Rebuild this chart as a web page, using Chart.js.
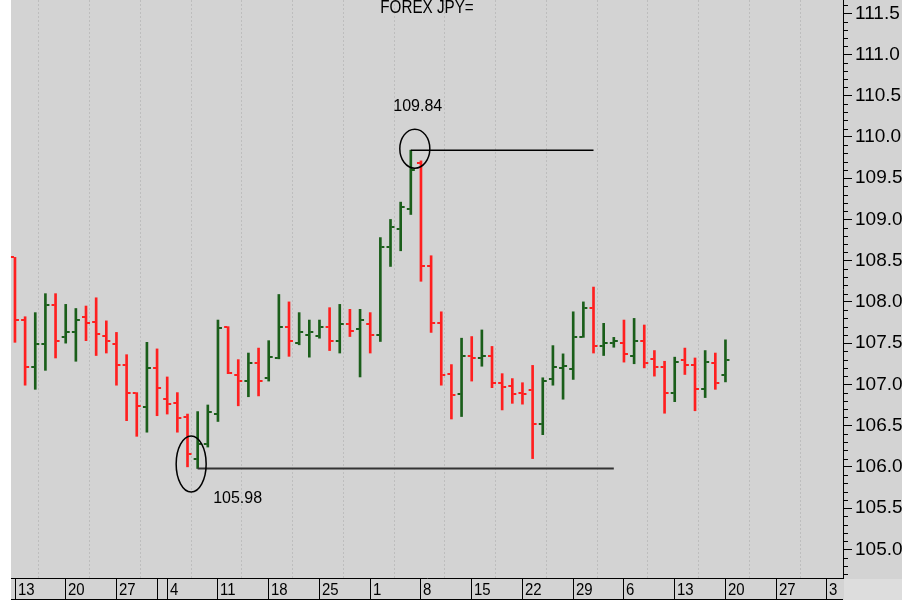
<!DOCTYPE html>
<html lang="en">
<head>
<meta charset="UTF-8">
<title>FOREX JPY=</title>
<style>
  html, body { margin: 0; padding: 0; background: #fff; }
  canvas { display: block; }
</style>
</head>
<body>
<canvas id="myChart" width="902" height="600"></canvas>
<script src="https://cdn.jsdelivr.net/npm/chart.js"></script>
<script>
  // daily bars, one per trading day (13 Apr .. 20 Jul)
  const opens = [
    108.54, 107.78, 107.21, 107.49, 107.96, 107.57, 107.63, 107.82, 107.76, 107.59,
    107.49, 107.23, 106.90, 106.72, 107.20, 106.82, 106.78, 106.60, 106.10, 106.28,
    106.64, 107.69, 107.11, 107.04, 107.26, 107.08, 107.32, 107.70, 107.50, 107.60,
    107.59, 107.70, 107.53, 107.73, 107.67, 107.73, 107.60, 108.67, 108.89, 109.13,
    109.69, 108.44, 107.74, 107.12, 106.88, 107.34, 107.32, 107.34, 107.02, 106.98,
    106.90, 106.93, 106.52, 107.06, 107.20, 107.19, 107.57, 107.93, 107.47, 107.50,
    107.50, 107.34, 107.52, 107.31, 107.21, 106.90, 107.29, 107.24, 106.94, 107.26,
    107.11
  ];
  const highs = [
    108.54, 107.82, 107.87, 108.10, 108.10, 107.97, 107.92, 107.95, 108.05, 107.77,
    107.63, 107.36, 106.90, 107.51, 107.43, 107.09, 106.90, 106.64, 106.67, 106.75,
    107.78, 107.70, 107.30, 107.38, 107.44, 107.53, 108.09, 108.00, 107.87, 107.78,
    107.78, 107.93, 107.97, 107.91, 107.91, 107.87, 108.78, 109.00, 109.21, 109.84,
    109.71, 108.56, 107.88, 107.24, 107.56, 107.58, 107.66, 107.46, 107.13, 107.07,
    107.02, 107.23, 107.08, 107.47, 107.37, 107.88, 108.00, 108.18, 107.74, 107.57,
    107.78, 107.80, 107.72, 107.41, 107.28, 107.33, 107.44, 107.32, 107.41, 107.38,
    107.54
  ];
  const lows = [
    107.51, 106.99, 106.94, 107.17, 107.32, 107.50, 107.28, 107.53, 107.35, 107.38,
    106.99, 106.56, 106.37, 106.42, 106.62, 106.64, 106.42, 106.00, 105.98, 106.24,
    106.55, 107.13, 106.74, 106.85, 106.86, 107.04, 107.31, 107.34, 107.48, 107.33,
    107.56, 107.41, 107.38, 107.58, 107.09, 107.38, 107.52, 108.43, 108.62, 109.06,
    108.25, 107.63, 106.99, 106.58, 106.61, 107.04, 107.22, 106.96, 106.69, 106.77,
    106.76, 106.10, 106.39, 106.99, 106.82, 107.06, 107.57, 107.38, 107.35, 107.45,
    107.27, 107.25, 107.20, 107.10, 106.65, 106.79, 107.12, 106.68, 106.84, 106.94,
    107.03
  ];
  const closes = [
    107.78, 107.21, 107.49, 107.96, 107.52, 107.63, 107.78, 107.74, 107.61, 107.52,
    107.24, 106.90, 106.74, 107.20, 106.96, 106.76, 106.59, 106.15, 106.28, 106.67,
    107.68, 107.14, 107.04, 107.26, 107.04, 107.33, 107.70, 107.52, 107.63, 107.63,
    107.70, 107.53, 107.73, 107.65, 107.78, 107.60, 108.67, 108.91, 109.15, 109.60,
    108.44, 107.74, 107.11, 106.87, 107.35, 107.32, 107.34, 107.02, 106.97, 106.88,
    106.88, 106.52, 107.04, 107.21, 107.22, 107.57, 107.93, 107.47, 107.50, 107.52,
    107.37, 107.52, 107.26, 107.21, 106.90, 107.27, 107.24, 106.94, 107.27, 107.02,
    107.29
  ];

  // week starts on the time axis (monday of each week)
  const weekLabels = ["13", "20", "27", "4", "11", "18", "25", "1", "8", "15", "22", "29", "6", "13", "20", "27", "3"];
  const monthBreaks = [14];
  const yTicks = [105.0, 105.5, 106.0, 106.5, 107.0, 107.5, 108.0, 108.5, 109.0, 109.5, 110.0, 110.5, 111.0, 111.5];

  const title = "FOREX JPY=";
  const upColor = "#1a5e1a";
  const downColor = "#ff1f1f";

  const barColors = opens.map(function (o, i) {
    return closes[i] >= o ? upColor : downColor;
  });
  const weekPos = weekLabels.map(function (l, k) { return k * 5 - 0.15; });

  const lowVal = Math.min.apply(null, lows);
  const lowIdx = lows.indexOf(lowVal);
  const highVal = Math.max.apply(null, highs);
  const highIdx = highs.indexOf(highVal);

  const sans = "'Liberation Sans', Arial, sans-serif";

  const backdrop = {
    id: "backdrop",
    beforeDraw(chart) {
      const ctx = chart.ctx;
      const a = chart.chartArea;
      ctx.save();
      ctx.fillStyle = "#fff";
      ctx.fillRect(0, 0, chart.width, chart.height);
      ctx.fillStyle = "#d3d3d3";
      ctx.fillRect(a.left, 0, chart.width - a.left, chart.height);
      ctx.fillStyle = "#dddddd";
      ctx.fillRect(a.right + 1, a.bottom + 1, chart.width, chart.height);
      ctx.restore();
    }
  };

  // open tick on the left, close tick on the right
  const ohlcTicks = {
    id: "ohlcTicks",
    afterDatasetsDraw(chart) {
      const ctx = chart.ctx;
      const xs = chart.scales.x;
      const ys = chart.scales.y;
      ctx.save();
      for (let i = 0; i < opens.length; i++) {
        const px = xs.getPixelForValue(i);
        ctx.fillStyle = barColors[i];
        ctx.fillRect(px - 4, Math.round(ys.getPixelForValue(opens[i])) - 1, 3, 2);
        ctx.fillRect(px + 1, Math.round(ys.getPixelForValue(closes[i])) - 1, 3, 2);
      }
      ctx.restore();
    }
  };

  const marks = {
    id: "marks",
    afterDraw(chart) {
      const ctx = chart.ctx;
      const a = chart.chartArea;
      const xs = chart.scales.x;
      const ys = chart.scales.y;
      ctx.save();

      // minor ticks on the price axis
      ctx.strokeStyle = "#000";
      ctx.lineWidth = 1;
      for (let v = 104.7; v < 111.66; v += 0.1) {
        const r = Math.round(v * 10);
        if (r % 5 === 0) continue;
        const py = Math.round(ys.getPixelForValue(r / 10)) + 0.5;
        ctx.beginPath();
        ctx.moveTo(a.right, py);
        ctx.lineTo(a.right + 5, py);
        ctx.stroke();
      }

      // date strip under the plot
      const top = a.bottom;
      const bottom = chart.height - 1;
      ctx.beginPath();
      ctx.moveTo(a.left, bottom + 0.5);
      ctx.lineTo(a.right, bottom + 0.5);
      ctx.stroke();
      ctx.fillStyle = "#000";
      ctx.textBaseline = "alphabetic";
      ctx.textAlign = "left";
      weekPos.forEach(function (v, k) {
        const px = Math.max(Math.round(xs.getPixelForValue(v)) + 1, a.left + 4) + 0.5;
        ctx.beginPath();
        ctx.moveTo(px, top);
        ctx.lineTo(px, bottom);
        ctx.stroke();
        // labels are a bit condensed in the original
        ctx.save();
        ctx.translate(px + 2.5, top + 16.5);
        ctx.scale(0.88, 1);
        ctx.font = "17px " + sans;
        ctx.fillText(weekLabels[k], 0, 0);
        ctx.restore();
      });
      monthBreaks.forEach(function (v) {
        const px = Math.round(xs.getPixelForValue(v)) + 0.5;
        ctx.beginPath();
        ctx.moveTo(px, top);
        ctx.lineTo(px, bottom);
        ctx.stroke();
      });

      // title, clipped at the top edge
      ctx.save();
      ctx.translate(427, 12.5);
      ctx.scale(0.8, 1);
      ctx.textAlign = "center";
      ctx.font = "19px " + sans;
      ctx.fillText(title, 0, 0);
      ctx.restore();

      // low marker
      const lx = xs.getPixelForValue(lowIdx);
      const ly = ys.getPixelForValue(lowVal);
      ctx.strokeStyle = "#333";
      ctx.lineWidth = 2;
      ctx.beginPath();
      ctx.moveTo(lx, ly);
      ctx.lineTo(xs.getPixelForValue(lowIdx + 41), ly);
      ctx.stroke();
      ctx.strokeStyle = "#000";
      ctx.lineWidth = 1.5;
      ctx.beginPath();
      ctx.ellipse(lx - 6.5, ly - 4.5, 15, 28, 0, 0, Math.PI * 2);
      ctx.stroke();

      // high marker
      const hx = xs.getPixelForValue(highIdx);
      const hy = ys.getPixelForValue(highVal);
      ctx.beginPath();
      ctx.moveTo(hx, hy);
      ctx.lineTo(xs.getPixelForValue(highIdx + 18), hy);
      ctx.stroke();
      ctx.beginPath();
      ctx.ellipse(hx + 4, hy - 1.5, 15, 19.5, 0, 0, Math.PI * 2);
      ctx.stroke();

      ctx.textAlign = "left";
      ctx.font = "16px " + sans;
      ctx.fillText(lowVal.toFixed(2), lx + 15.5, ly + 35);
      ctx.fillText(highVal.toFixed(2), hx - 17.5, hy - 39);

      ctx.restore();
    }
  };

  const config = {
    type: "bar",
    data: {
      datasets: [
        {
          data: opens.map(function (o, i) { return { x: i, y: [lows[i], highs[i]] }; }),
          backgroundColor: barColors,
          borderWidth: 0,
          barThickness: 2,
          grouped: false
        }
      ]
    },
    options: {
      responsive: false,
      animation: false,
      devicePixelRatio: 1,
      layout: { padding: { left: 11, top: 0, right: 0, bottom: 0 } },
      plugins: {
        legend: { display: false },
        tooltip: { enabled: false },
        title: { display: false }
      },
      scales: {
        x: {
          type: "linear",
          min: -0.39,
          max: 81.58,
          offset: false,
          afterBuildTicks: function (s) { s.ticks = weekPos.map(function (v) { return { value: v }; }); },
          afterFit: function (s) { s.height = 22; s.paddingLeft = 0; s.paddingRight = 0; },
          ticks: { display: false },
          grid: { color: "#bdbdbd", lineWidth: 1, drawTicks: false },
          border: { display: true, color: "#000", width: 1, dash: [2, 2] }
        },
        y: {
          position: "right",
          min: 104.652,
          max: 111.661,
          afterBuildTicks: function (s) { s.ticks = yTicks.map(function (v) { return { value: v }; }); },
          afterFit: function (s) { s.width = 59; s.paddingTop = 0; s.paddingBottom = 0; },
          ticks: {
            color: "#000",
            padding: 3,
            font: { family: sans, size: 19 },
            callback: function (v) { return v.toFixed(1); }
          },
          grid: { drawOnChartArea: false, drawTicks: true, tickLength: 9, tickColor: "#000", tickWidth: 1 },
          border: { display: true, color: "#000", width: 1 }
        }
      }
    },
    plugins: [backdrop, ohlcTicks, marks]
  };

  const myChart = new Chart(document.getElementById("myChart"), config);
</script>
</body>
</html>
